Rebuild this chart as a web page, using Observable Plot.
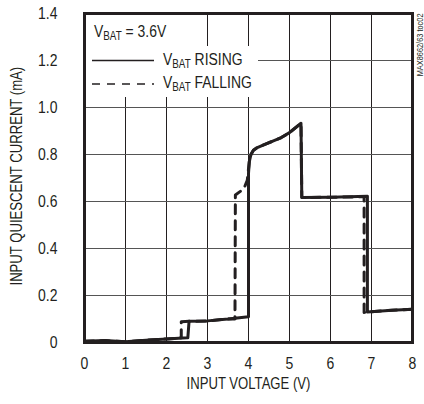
<!DOCTYPE html>
<html><head><meta charset="utf-8">
<script src="https://cdn.jsdelivr.net/npm/d3@7"></script>
<script src="https://cdn.jsdelivr.net/npm/@observablehq/plot@0.6"></script>
<style>
body{margin:0;background:#fff;}
</style></head><body><div id="chart"></div>
<script>
// ---- data ----
const risingV = [0, 0.5, 1.0, 1.5, 2.0, 2.5, 2.52, 2.55, 3.0, 3.5, 4.0, 4.0, 4.02, 4.06, 4.12, 4.2, 4.4, 4.8, 5.0, 5.28, 5.3, 6.0, 6.9, 6.9, 7.5, 8.0];
const risingI = [0.005, 0.008, 0.003, 0.01, 0.015, 0.02, 0.02, 0.09, 0.092, 0.1, 0.11, 0.72, 0.77, 0.80, 0.818, 0.828, 0.843, 0.872, 0.893, 0.933, 0.617, 0.618, 0.622, 0.13, 0.137, 0.142];
const fallingV = [8.0, 7.5, 6.9, 6.82, 6.82, 6.0, 5.3, 5.28, 5.0, 4.8, 4.4, 4.2, 4.12, 4.06, 4.02, 3.97, 3.9, 3.8, 3.68, 3.67, 3.5, 3.0, 2.55, 2.36, 2.36, 2.0, 1.5, 1.0, 0.5, 0];
const fallingI = [0.142, 0.137, 0.13, 0.128, 0.62, 0.618, 0.617, 0.933, 0.893, 0.872, 0.843, 0.828, 0.818, 0.80, 0.77, 0.69, 0.66, 0.643, 0.628, 0.10, 0.10, 0.092, 0.09, 0.088, 0.02, 0.015, 0.01, 0.003, 0.008, 0.005];
const xTicks = [0, 1, 2, 3, 4, 5, 6, 7, 8];
const xTickLabels = ["0", "1", "2", "3", "4", "5", "6", "7", "8"];
const yTicks = [0, 0.2, 0.4, 0.6, 0.8, 1.0, 1.2, 1.4];
const yTickLabels = ["0", "0.2", "0.4", "0.6", "0.8", "1.0", "1.2", "1.4"];
const xTitle = "INPUT VOLTAGE (V)";
const yTitle = "INPUT QUIESCENT CURRENT (mA)";
const sideNote = "MAX8662/63 toc02";
const condition = ["V", "BAT", " = 3.6V"];
const seriesNames = [["V", "BAT", " RISING"], ["V", "BAT", " FALLING"]];

const rising = risingV.map((v, k) => ({v, i: risingI[k]}));
const falling = fallingV.map((v, k) => ({v, i: fallingI[k]}));

const INK = "#231f20";
const FONT = "'Liberation Sans',Arial,sans-serif";
const SQUEEZE = 0.82;

const plot = Plot.plot({
  width: 424, height: 404,
  marginLeft: 84, marginRight: 12, marginTop: 13, marginBottom: 62,
  style: {fontFamily: FONT, fontSize: "16px", color: INK, background: "#fff"},
  x: {domain: [0, 8]},
  y: {domain: [0, 1.4]},
  marks: [
    Plot.gridX(xTicks, {stroke: INK, strokeOpacity: 1, strokeWidth: 1}),
    Plot.gridY(yTicks, {stroke: "#555", strokeOpacity: 1, strokeWidth: 1}),
    Plot.line(falling, {x: "v", y: "i", stroke: INK, strokeWidth: 3, strokeDasharray: "9,7"}),
    Plot.line(rising, {x: "v", y: "i", stroke: INK, strokeWidth: 3}),
    Plot.frame({stroke: INK, strokeWidth: 3}),
    Plot.axisX(xTicks, {tickSize: 0, tickPadding: 14, tickFormat: (d, k) => xTickLabels[k], label: null, fontSize: 17}),
    Plot.axisY(yTicks, {tickSize: 0, tickPadding: 27, tickFormat: (d, k) => yTickLabels[k], label: null, fontSize: 17}),
    Plot.text([xTitle], {frameAnchor: "bottom", dy: 46, fontSize: 16, fill: INK}),
    Plot.text([yTitle], {frameAnchor: "bottom-left", dx: -63, dy: -57, rotate: -90, textAnchor: "start", fontSize: 16, fill: INK}),
    Plot.text([sideNote], {frameAnchor: "top-right", dx: 4, rotate: -90, textAnchor: "end", fontSize: 9, fill: INK})
  ]
});

document.getElementById("chart").appendChild(plot);
const svg = d3.select(plot);

// emulate the condensed typeface of the original
svg.selectAll("text").each(function () {
  const len = this.getComputedTextLength();
  if (len > 0) {
    this.setAttribute("textLength", (len * SQUEEZE).toFixed(1));
    this.setAttribute("lengthAdjust", "spacingAndGlyphs");
  }
});

// legend inside the frame (white boxes hide grid lines)
const g = svg.append("g").attr("font-family", FONT).attr("fill", INK).attr("text-anchor", "start");
g.append("rect").attr("x", 86).attr("y", 15).attr("width", 94).attr("height", 82).attr("fill", "#fff");
g.append("rect").attr("x", 158).attr("y", 46).attr("width", 100).attr("height", 51).attr("fill", "#fff");

function subText(x, y, parts) {
  const t = g.append("text")
    .attr("transform", `translate(${x},${y}) scale(${SQUEEZE},1)`)
    .attr("font-size", 17).attr("text-anchor", "start");
  t.append("tspan").text(parts[0]);
  t.append("tspan").attr("font-size", 12).attr("dy", 3).text(parts[1]);
  t.append("tspan").attr("dy", -3).text(parts[2]);
}
subText(94, 37, condition);
g.append("line").attr("x1", 92).attr("x2", 154).attr("y1", 60.5).attr("y2", 60.5)
  .attr("stroke", INK).attr("stroke-width", 1.5);
g.append("line").attr("x1", 92).attr("x2", 154).attr("y1", 84).attr("y2", 84)
  .attr("stroke", INK).attr("stroke-width", 1.5).attr("stroke-dasharray", "8,7");
subText(163, 65, seriesNames[0]);
subText(163, 88, seriesNames[1]);
</script></body></html>
